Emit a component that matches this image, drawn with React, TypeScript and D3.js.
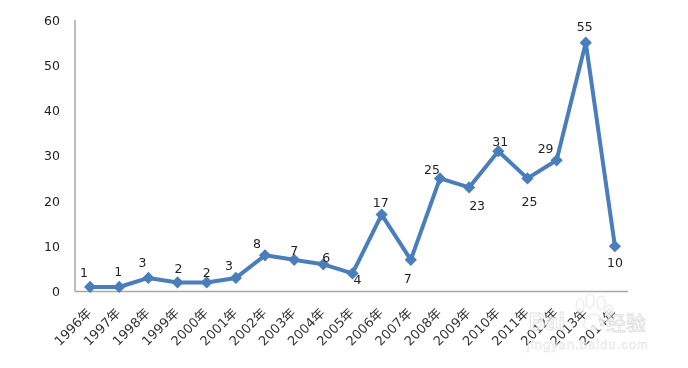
import React from "react";
import * as d3 from "d3";

const years = ["1996年","1997年","1998年","1999年","2000年","2001年","2002年","2003年","2004年","2005年","2006年","2007年","2008年","2009年","2010年","2011年","2012年","2013年","2014年"];
const counts = [1,1,3,2,2,3,8,7,6,4,17,7,25,23,31,25,29,55,10];
const yTicks = [0,10,20,30,40,50,60];
const labelDx = [-6,-1,-6,1,0,-7,-8,0,3,5,-1,-3,-8,8,2,2,-11,-1,0];
const labelDy = [-14,-15,-15,-14,-10,-12,-12,-9,-7,6,-12,19,-9,18,-10,23,-12,-16,16];

const W = 688, H = 368;
const font = "'DejaVu Sans', 'Noto Sans CJK SC', sans-serif";
const pawToes = [[580,306,4,7],[590,301,4,7],[601,303,4,7],[609,311,4,6]];

export default function App() {
  const x = d3.scalePoint<string>().domain(years).range([75.5, 629.5]).padding(0.5);
  const y = d3.scaleLinear().domain([0, 60]).range([291.5, 20]);
  const line = d3.line<number>().x((_, i) => x(years[i])!).y(d => y(d));
  const diamond = d3.symbol().type(d3.symbolDiamond2).size(95)()!;
  return (
    <svg width={W} height={H} style={{ position: "absolute", left: 0, top: 0, background: "#fff" }} fontFamily={font}>
      <defs>
        <filter id="soft" x="-5%" y="-5%" width="110%" height="110%"><feGaussianBlur stdDeviation="0.4" /></filter>
      </defs>
      <g filter="url(#soft)">
        <line x1={75} x2={75} y1={y(60)} y2={y(0)} stroke="#a6a6a6" strokeWidth={1.5} />
        <line x1={75} x2={628} y1={y(0)} y2={y(0)} stroke="#a6a6a6" strokeWidth={1.5} />
        {yTicks.map(t => (
          <text key={t} x={60} y={y(t)} dy="0.36em" textAnchor="end" fontSize={12.5} fill="#222">{t}</text>
        ))}
        {years.map(c => (
          <text key={c} transform={`translate(${x(c)! - 1},${y(0) + 19}) rotate(-45)`} textAnchor="end" dy="0.36em" fontSize={13} fill="#333">{c}</text>
        ))}
        <path d={line(counts)!} fill="none" stroke="#4a7ebb" strokeWidth={4} strokeLinejoin="round" />
        {counts.map((v, i) => (
          <path key={i} d={diamond} transform={`translate(${x(years[i])},${y(v)})`} fill="#4a7ebb" />
        ))}
        {counts.map((v, i) => (
          <text key={i} x={x(years[i])! + labelDx[i]} y={y(v) + labelDy[i]} dy="0.36em" textAnchor="middle" fontSize={12.5} fill="#222">{v}</text>
        ))}
      </g>
      <g opacity={0.8} filter="url(#soft)">
        {pawToes.map(([cx, cy, rx, ry], i) => (
          <ellipse key={i} cx={cx} cy={cy} rx={rx} ry={ry} fill="#fff" stroke="#dcdcdc" />
        ))}
        <path d="M584 322 Q594 306 604 322 Q606 332 594 329 Q582 332 584 322Z" fill="#fff" stroke="#dcdcdc" />
        <text x={529} y={330} fontSize={23} fontWeight={700} fill="#fff" stroke="#d4d4d4" strokeWidth={0.8} fontFamily="'Liberation Sans', sans-serif">Bai</text>
        <text x={606} y={331} fontSize={20} fill="#fff" stroke="#d4d4d4" strokeWidth={0.8} fontFamily="'Noto Sans CJK SC', sans-serif">经验</text>
        <text x={527} y={349} fontSize={13} letterSpacing={1} fill="#fff" stroke="#d8d8d8" strokeWidth={0.5} fontFamily="'Liberation Sans', sans-serif">jingyan.baidu.com</text>
      </g>
    </svg>
  );
}
